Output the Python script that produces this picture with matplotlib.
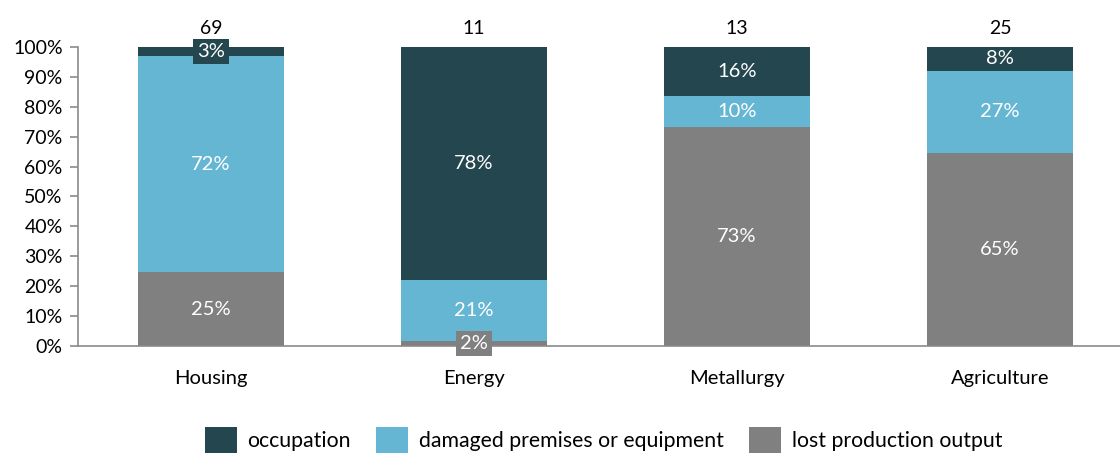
"""100% stacked bars: loss structure by sector."""
import numpy as np
import matplotlib
matplotlib.use("Agg")
import matplotlib.pyplot as plt

plt.rcParams["font.family"] = ["Lato", "DejaVu Sans"]

sectors = ["Housing", "Energy", "Metallurgy", "Agriculture"]
totals = [69, 11, 13, 25]
lost = [24.6, 1.5, 73.2, 64.6]          # % lost production output
damaged = [72.4, 20.6, 10.4, 27.4]      # % damaged premises or equipment
occupation = [3.0, 77.9, 16.4, 8.0]     # % occupation
small = 5                               # segments below this get a boxed label

series = [("lost production output", lost, "#808080"),
          ("damaged premises or equipment", damaged, "#65B6D3"),
          ("occupation", occupation, "#24464F")]

fig = plt.figure(figsize=(11.2, 4.55), dpi=100)
ax = fig.add_axes([0.0696, 0.2396, 0.9304, 0.6571])
x = np.arange(len(sectors))
w = 0.555
bottom = np.zeros(len(sectors))
handles = {}
for name, vals, col in series:
    vals = np.array(vals)
    bars = ax.bar(x, vals, w, bottom=bottom, color=col, label=name, zorder=2)
    handles[name] = bars
    for xi, b, v in zip(x, bottom, vals):
        box = dict(boxstyle="square,pad=0.2", fc=col, ec="none") if v < small else None
        ax.text(xi, b + v / 2, f"{v:.0f}%", ha="center", va="center",
                color="white", fontsize=14.5, bbox=box, zorder=3)
    bottom += vals

for xi, t in zip(x, totals):
    ax.text(xi, 103.5, str(t), ha="center", va="bottom", fontsize=14, color="black")

ax.set_xlim(-0.506, 3.456)
ax.set_ylim(0, 100)
ax.set_yticks(np.arange(0, 101, 10))
ax.set_yticklabels([f"{v}%" for v in range(0, 101, 10)], fontsize=14)
ax.set_xticks(x)
ax.set_xticklabels(sectors, fontsize=14.5)
ax.tick_params(axis="x", length=0, pad=17)
ax.tick_params(axis="y", length=6, color="#8a8a8a", width=1.2, pad=5)
for s in ["top", "right"]:
    ax.spines[s].set_visible(False)
for s in ["left", "bottom"]:
    ax.spines[s].set_color("#8a8a8a")
    ax.spines[s].set_linewidth(1.2)

order = ["occupation", "damaged premises or equipment", "lost production output"]
fig.legend([handles[n] for n in order], order, loc="lower center",
           bbox_to_anchor=(0.539, -0.038), ncol=3, frameon=False, fontsize=15.3,
           handlelength=1.5, handleheight=1.5, columnspacing=1.2, handletextpad=0.5)

fig.savefig("out.png", dpi=100)
